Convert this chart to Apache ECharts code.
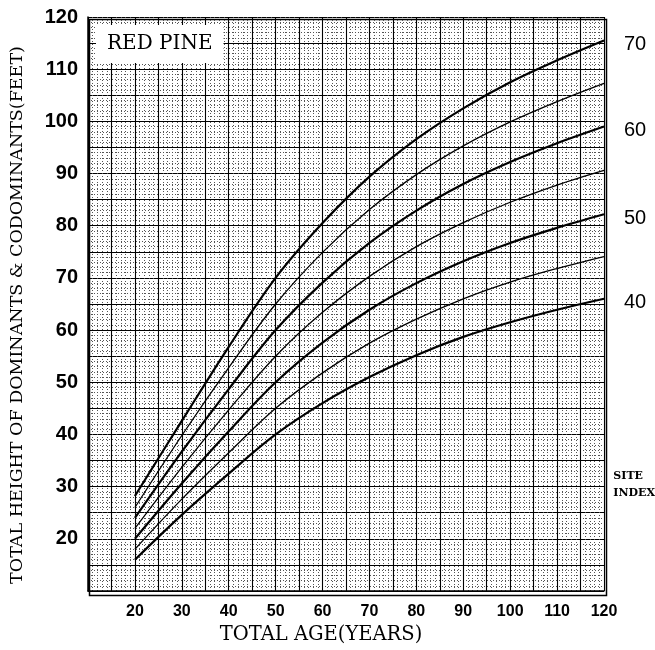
<!DOCTYPE html>
<html>
<head>
<meta charset="utf-8">
<script src="https://cdn.jsdelivr.net/npm/echarts@6/dist/echarts.min.js"></script>
<style>html,body{margin:0;padding:0;background:#fff}#c{width:655px;height:650px}</style>
</head>
<body>
<div id="c"></div>
<script>
var ages = [20, 30, 40, 50, 60, 70, 80, 90, 100, 110, 120];
var siteIndexes = ['40', '45', '50', '55', '60', '65', '70'];
var si40 = [16.0, 24.6, 32.5, 40.0, 46.0, 51.0, 55.2, 58.7, 61.5, 63.9, 66.0];
var si45 = [18.0, 27.6, 36.5, 45.0, 51.8, 57.5, 62.1, 66.0, 69.2, 71.8, 74.1];
var si50 = [20.0, 30.6, 40.6, 50.0, 57.6, 63.9, 69.0, 73.2, 76.7, 79.6, 82.2];
var si55 = [22.0, 33.7, 44.7, 55.0, 63.4, 70.3, 76.0, 80.6, 84.5, 87.8, 90.6];
var si60 = [24.0, 36.7, 48.7, 60.0, 69.1, 76.7, 82.9, 88.0, 92.2, 95.8, 99.0];
var si65 = [26.0, 39.8, 52.8, 65.0, 74.9, 83.1, 89.8, 95.3, 99.9, 103.8, 107.3];
var si70 = [28.2, 42.6, 56.8, 70.0, 80.5, 89.4, 96.6, 102.5, 107.5, 111.7, 115.5];
var yTicks = [20, 30, 40, 50, 60, 70, 80, 90, 100, 110, 120];
var xTicks = [20, 30, 40, 50, 60, 70, 80, 90, 100, 110, 120];

var curves = [si40, si45, si50, si55, si60, si65, si70];
var chart = echarts.init(document.getElementById('c'));
var series = curves.map(function (vals, i) {
  var thick = (i % 2 === 0);
  return {
    name: siteIndexes[i],
    type: 'line',
    smooth: 0.35,
    symbol: 'none',
    silent: true,
    data: ages.map(function (a, j) { return [a, vals[j]]; }),
    lineStyle: { color: '#000', width: thick ? 2.2 : 1.3 },
    endLabel: {
      show: thick,
      formatter: '{a}',
      offset: [12, 4],
      color: '#000',
      fontSize: 20,
      fontFamily: 'Liberation Sans'
    }
  };
});

function tickFmt(list) {
  return function (v) { return list.indexOf(v) >= 0 ? String(v) : ''; };
}

chart.setOption({
  animation: false,
  backgroundColor: '#fff',
  title: {
    text: 'RED PINE',
    left: 96, top: 25,
    backgroundColor: '#fff',
    padding: [9, 11, 9, 11],
    textStyle: { fontFamily: 'DejaVu Serif', fontSize: 20, fontWeight: 'normal', color: '#000' }
  },
  grid: { left: 87, right: 51, top: 17, bottom: 57, show: false },
  xAxis: {
    type: 'value', min: 10, max: 120, interval: 5,
    name: 'TOTAL AGE(YEARS)', nameLocation: 'middle', nameGap: 34,
    nameTextStyle: { fontFamily: 'DejaVu Serif', fontSize: 19.5, color: '#000', padding: [0, 50, 0, 0] },
    axisLine: { show: true, lineStyle: { color: '#000', width: 1.5 } },
    axisTick: { show: false },
    axisLabel: { formatter: tickFmt(xTicks), margin: 13, color: '#000', fontFamily: 'Liberation Sans', fontWeight: 'bold', fontSize: 16 },
    splitLine: { show: true, lineStyle: { color: '#000', width: 1.1 } },
    minorTick: { show: true, splitNumber: 5, length: 0 },
    minorSplitLine: { show: true, lineStyle: { color: '#555', width: 1, type: [1, 2] } }
  },
  yAxis: {
    type: 'value', min: 10, max: 120, interval: 5,
    name: 'TOTAL HEIGHT OF DOMINANTS & CODOMINANTS(FEET)', nameLocation: 'middle', nameGap: 62,
    nameTextStyle: { fontFamily: 'DejaVu Serif', fontSize: 17.5, color: '#000', padding: [0, 22, 0, 0] },
    axisLine: { show: true, lineStyle: { color: '#000', width: 1.5 } },
    axisTick: { show: false },
    axisLabel: { formatter: tickFmt(yTicks), margin: 10, color: '#000', fontFamily: 'Liberation Sans', fontWeight: 'bold', fontSize: 20 },
    splitLine: { show: true, lineStyle: { color: '#000', width: 1.1 } },
    minorTick: { show: true, splitNumber: 5, length: 0 },
    minorSplitLine: { show: true, lineStyle: { color: '#555', width: 1, type: [1, 2] } }
  },
  graphic: [
    { type: 'text', right: 12, top: 471, style: { text: 'SITE', fontFamily: 'DejaVu Serif', fontWeight: 'bold', fontSize: 11, fill: '#000' } },
    { type: 'text', right: 0, top: 488, style: { text: 'INDEX', fontFamily: 'DejaVu Serif', fontWeight: 'bold', fontSize: 11, fill: '#000' } },
    { type: 'rect', left: 87, top: 17, shape: { width: 517, height: 576 }, style: { fill: 'none', stroke: '#000', lineWidth: 1.5 }, silent: true }
  ],
  series: series
});
</script>
</body>
</html>
